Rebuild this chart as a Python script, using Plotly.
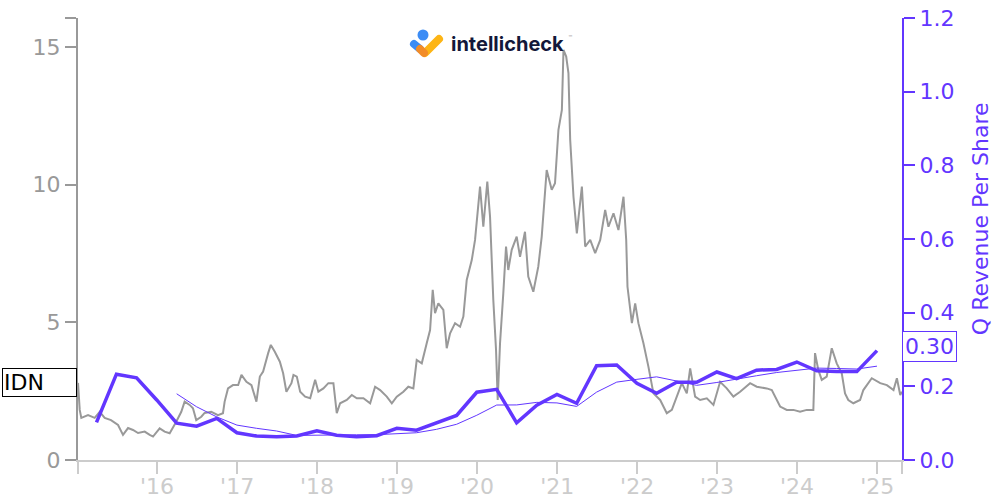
import base64
import pandas as pd
import plotly.graph_objects as go

# ---------------- data ----------------
# IDN share price, time as decimal year
price_t = [
    2015.0125, 2015.034, 2015.054, 2015.138, 2015.221, 2015.284, 2015.346, 2015.425, 2015.513, 2015.575,
    2015.638, 2015.700, 2015.763, 2015.846, 2015.909, 2015.950, 2016.034, 2016.096, 2016.159, 2016.200,
    2016.241, 2016.304, 2016.346, 2016.409, 2016.450, 2016.491, 2016.554, 2016.596, 2016.679, 2016.763,
    2016.825, 2016.846, 2016.888, 2016.950, 2017.013, 2017.054, 2017.116, 2017.179, 2017.241, 2017.284,
    2017.325, 2017.388, 2017.421, 2017.471, 2017.534, 2017.575, 2017.616, 2017.679, 2017.704, 2017.746,
    2017.788, 2017.850, 2017.913, 2017.975, 2018.016, 2018.079, 2018.141, 2018.204, 2018.246, 2018.288,
    2018.371, 2018.434, 2018.496, 2018.579, 2018.663, 2018.725, 2018.788, 2018.871, 2018.934, 2018.996,
    2019.079, 2019.141, 2019.204, 2019.246, 2019.309, 2019.371, 2019.413, 2019.446, 2019.475, 2019.516,
    2019.579, 2019.621, 2019.663, 2019.725, 2019.788, 2019.829, 2019.871, 2019.934, 2019.975, 2020.038,
    2020.079, 2020.129, 2020.163, 2020.204, 2020.238, 2020.259, 2020.288, 2020.329, 2020.363, 2020.391,
    2020.434, 2020.496, 2020.538, 2020.600, 2020.641, 2020.704, 2020.766, 2020.809, 2020.871, 2020.934,
    2020.975, 2021.016, 2021.059, 2021.079, 2021.113, 2021.141, 2021.163, 2021.204, 2021.246, 2021.309,
    2021.350, 2021.413, 2021.475, 2021.538, 2021.600, 2021.641, 2021.704, 2021.766, 2021.829, 2021.863,
    2021.879, 2021.934, 2021.975, 2022.016, 2022.079, 2022.141, 2022.204, 2022.288, 2022.371, 2022.434,
    2022.496, 2022.559, 2022.621, 2022.663, 2022.725, 2022.788, 2022.871, 2022.954, 2023.038, 2023.121,
    2023.204, 2023.288, 2023.413, 2023.496, 2023.621, 2023.684, 2023.788, 2023.871, 2023.954, 2024.038,
    2024.121, 2024.204, 2024.225, 2024.266, 2024.309, 2024.371, 2024.434, 2024.496, 2024.559, 2024.600,
    2024.641, 2024.704, 2024.788, 2024.829, 2024.934, 2025.038, 2025.121, 2025.204, 2025.246, 2025.288,
    2025.309,
]
price = [
    2.80, 1.82, 1.53, 1.63, 1.53, 1.75, 1.53, 1.45, 1.27, 0.91,
    1.16, 1.09, 0.98, 1.03, 0.91, 0.85, 1.15, 1.03, 0.97, 1.21,
    1.39, 1.75, 2.12, 2.00, 1.88, 1.45, 1.57, 1.71, 1.75, 1.63,
    1.70, 2.12, 2.60, 2.72, 2.72, 3.09, 2.84, 2.72, 2.12, 3.03,
    3.21, 3.88, 4.18, 3.93, 3.57, 3.15, 2.48, 2.79, 3.09, 3.03,
    2.48, 2.30, 2.24, 2.91, 2.48, 2.60, 2.79, 2.79, 1.70, 2.06,
    2.18, 2.36, 2.24, 2.24, 2.06, 2.66, 2.54, 2.30, 2.06, 2.30,
    2.48, 2.66, 2.60, 3.63, 3.51, 4.24, 4.72, 6.18, 5.33, 5.69,
    5.45, 4.06, 4.60, 4.97, 4.84, 5.21, 6.54, 7.26, 7.99, 9.93,
    8.47, 10.11, 8.84, 5.81, 4.00, 2.18, 4.24, 6.06, 7.75, 6.90,
    7.63, 8.11, 7.38, 8.29, 6.66, 6.11, 7.02, 8.11, 10.53, 9.81,
    10.05, 11.99, 12.71, 14.89, 14.65, 14.05, 11.62, 9.56, 8.23, 9.93,
    7.75, 7.99, 7.51, 7.99, 9.08, 8.47, 8.96, 8.35, 9.56, 7.99,
    6.29, 4.97, 5.69, 4.97, 4.24, 3.39, 2.42, 2.18, 1.70, 1.82,
    2.30, 2.79, 2.42, 3.33, 2.30, 2.18, 2.24, 2.00, 2.84, 2.60,
    2.30, 2.48, 2.79, 2.66, 2.60, 2.54, 1.94, 1.82, 1.82, 1.75,
    1.82, 1.82, 3.88, 3.27, 2.91, 3.03, 4.06, 3.51, 3.15, 2.42,
    2.18, 2.06, 2.18, 2.54, 2.97, 2.79, 2.72, 2.54, 2.97, 2.36,
    2.48,
]

# Quarterly revenue per share
rev_dates = [
    "2015-03-31", "2015-06-30", "2015-09-30", "2015-12-31",
    "2016-03-31", "2016-06-30", "2016-09-30", "2016-12-31",
    "2017-03-31", "2017-06-30", "2017-09-30", "2017-12-31",
    "2018-03-31", "2018-06-30", "2018-09-30", "2018-12-31",
    "2019-03-31", "2019-06-30", "2019-09-30", "2019-12-31",
    "2020-03-31", "2020-06-30", "2020-09-30", "2020-12-31",
    "2021-03-31", "2021-06-30", "2021-09-30", "2021-12-31",
    "2022-03-31", "2022-06-30", "2022-09-30", "2022-12-31",
    "2023-03-31", "2023-06-30", "2023-09-30", "2023-12-31",
    "2024-03-31", "2024-06-30", "2024-09-30", "2024-12-31",
]
rev_per_share = [
    0.102, 0.233, 0.223, 0.163,
    0.100, 0.092, 0.113, 0.074,
    0.065, 0.063, 0.065, 0.079,
    0.067, 0.063, 0.066, 0.086,
    0.081, 0.100, 0.121, 0.184,
    0.192, 0.101, 0.149, 0.178,
    0.154, 0.256, 0.258, 0.208,
    0.181, 0.211, 0.211, 0.239,
    0.221, 0.244, 0.246, 0.266,
    0.242, 0.240, 0.240, 0.297,
]

ticker = "IDN"
year_ticks = [2016, 2017, 2018, 2019, 2020, 2021, 2022, 2023, 2024, 2025]
year_labels = ["'16", "'17", "'18", "'19", "'20", "'21", "'22", "'23", "'24", "'25"]
x_start, x_end = 2015.0125, 2025.31
left_ticks = [0, 5, 10, 15]
right_ticks = [0.0, 0.2, 0.4, 0.6, 0.8, 1.0, 1.2]

# ---------------- helpers ----------------
def yr2date(t):
    y = int(t)
    return pd.Timestamp(y, 1, 1) + pd.Timedelta(days=(t - y) * 365.25)

price_dates = [yr2date(t) for t in price_t]
rev_x = pd.to_datetime(rev_dates)
rev_s = pd.Series(rev_per_share)
rev_avg = rev_s.rolling(4).mean()
rev_avg.iloc[:4] = None  # trailing 4-quarter average shown from the 5th quarter

PURPLE = "#6236FF"
GRAY = "#999999"
LIGHT = "#cccccc"
FONT = "DejaVu Sans"

fig = go.Figure()
fig.add_trace(go.Scatter(x=price_dates, y=price, mode="lines",
                         line=dict(color=GRAY, width=2), yaxis="y", hoverinfo="skip"))
fig.add_trace(go.Scatter(x=rev_x, y=rev_avg, mode="lines",
                         line=dict(color=PURPLE, width=1), yaxis="y2", hoverinfo="skip"))
fig.add_trace(go.Scatter(x=rev_x, y=rev_per_share, mode="lines",
                         line=dict(color=PURPLE, width=3.5), yaxis="y2", hoverinfo="skip"))

x0, x1 = yr2date(x_start), yr2date(x_end)
xt = [x0] + [pd.Timestamp(y, 1, 1) for y in year_ticks] + [x1]
xl = [""] + year_labels + [""]

ytop = 16.05
fig.update_layout(
    width=1000, height=500,
    margin=dict(l=78, r=98, t=18, b=40, autoexpand=False),
    plot_bgcolor="white", paper_bgcolor="white",
    showlegend=False,
    font=dict(family=FONT, size=22),
    xaxis=dict(type="date", range=[x0, x1], tickvals=xt, ticktext=xl,
               ticks="outside", ticklen=12, tickwidth=2, tickcolor=LIGHT,
               ticklabelstandoff=-6,
               showline=True, linecolor=LIGHT, linewidth=2,
               showgrid=False, zeroline=False, automargin=False,
               tickfont=dict(family=FONT, size=22, color=LIGHT)),
    yaxis=dict(range=[0, ytop], tickvals=left_ticks + [ytop],
               ticktext=[str(v) for v in left_ticks] + [""],
               ticks="outside", ticklen=11, tickwidth=2, tickcolor=GRAY,
               showline=True, linecolor=GRAY, linewidth=2,
               showgrid=False, zeroline=False, automargin=False,
               tickfont=dict(family=FONT, size=22, color=GRAY)),
    yaxis2=dict(range=[0, 1.2], overlaying="y", side="right",
                tickvals=right_ticks, ticktext=[f"{v:.1f}" for v in right_ticks],
                ticks="outside", ticklen=11, tickwidth=2, tickcolor=PURPLE,
                showline=True, linecolor=PURPLE, linewidth=2,
                showgrid=False, zeroline=False, automargin=False,
                tickfont=dict(family=FONT, size=22, color=PURPLE)),
)

# ticker label box on the left
fig.add_annotation(xref="paper", yref="y", x=0, y=price[0], xanchor="right", yanchor="middle",
                   xshift=-1, text=ticker, showarrow=False, align="left", width=71,
                   font=dict(family=FONT, size=22, color="black"),
                   bgcolor="white", bordercolor="black", borderwidth=1, borderpad=1)
# last value box on the right
fig.add_annotation(xref="paper", yref="y2", x=1, y=rev_per_share[-1], xanchor="left", yanchor="middle",
                   xshift=0, yshift=4, text=f"{rev_per_share[-1]:.2f}", showarrow=False,
                   font=dict(family=FONT, size=22, color=PURPLE),
                   bgcolor="white", bordercolor=PURPLE, borderwidth=1, borderpad=2)
# right axis title
fig.add_annotation(xref="paper", yref="paper", x=1.0947, y=0.545, text="Q Revenue Per Share",
                   textangle=-90, showarrow=False, xanchor="center", yanchor="middle",
                   font=dict(family=FONT, size=22, color=PURPLE))

# logo: icon as svg image + wordmark as text
svg = ("<svg xmlns='http://www.w3.org/2000/svg' width='36' height='32' viewBox='0 0 36 32'>"
       "<circle cx='15' cy='7' r='5.5' fill='#3b8cf5'/>"
       "<line x1='6' y1='16' x2='12' y2='21' stroke='#3b8cf5' stroke-width='8' stroke-linecap='round'/>"
       "<line x1='17' y1='25' x2='31' y2='11' stroke='#fdb515' stroke-width='8' stroke-linecap='round'/>"
       "<line x1='12' y1='21' x2='16' y2='25' stroke='#f28c28' stroke-width='8' stroke-linecap='round'/>"
       "</svg>")
src = "data:image/svg+xml;base64," + base64.b64encode(svg.encode()).decode()
fig.add_layout_image(source=src, xref="paper", yref="paper",
                     x=(408 - 78) / 824, y=(460 - 28) / 442,
                     sizex=36 / 824, sizey=32 / 442, xanchor="left", yanchor="top",
                     sizing="stretch", layer="above")
fig.add_annotation(xref="paper", yref="paper", x=(449 - 78) / 824, y=(460 - 44) / 442,
                   xanchor="left", yanchor="middle", text="intellicheck", showarrow=False,
                   font=dict(family="Inter", size=20, color="#13183a", weight=700))
fig.add_annotation(xref="paper", yref="paper", x=(566 - 78) / 824, y=(460 - 37) / 442,
                   xanchor="left", yanchor="middle", text="™", showarrow=False,
                   font=dict(family=FONT, size=5, color="#888888"))

fig.write_html("out.html", config={"displayModeBar": False},
               post_script="document.body.style.margin='0';document.body.style.overflow='hidden';")
